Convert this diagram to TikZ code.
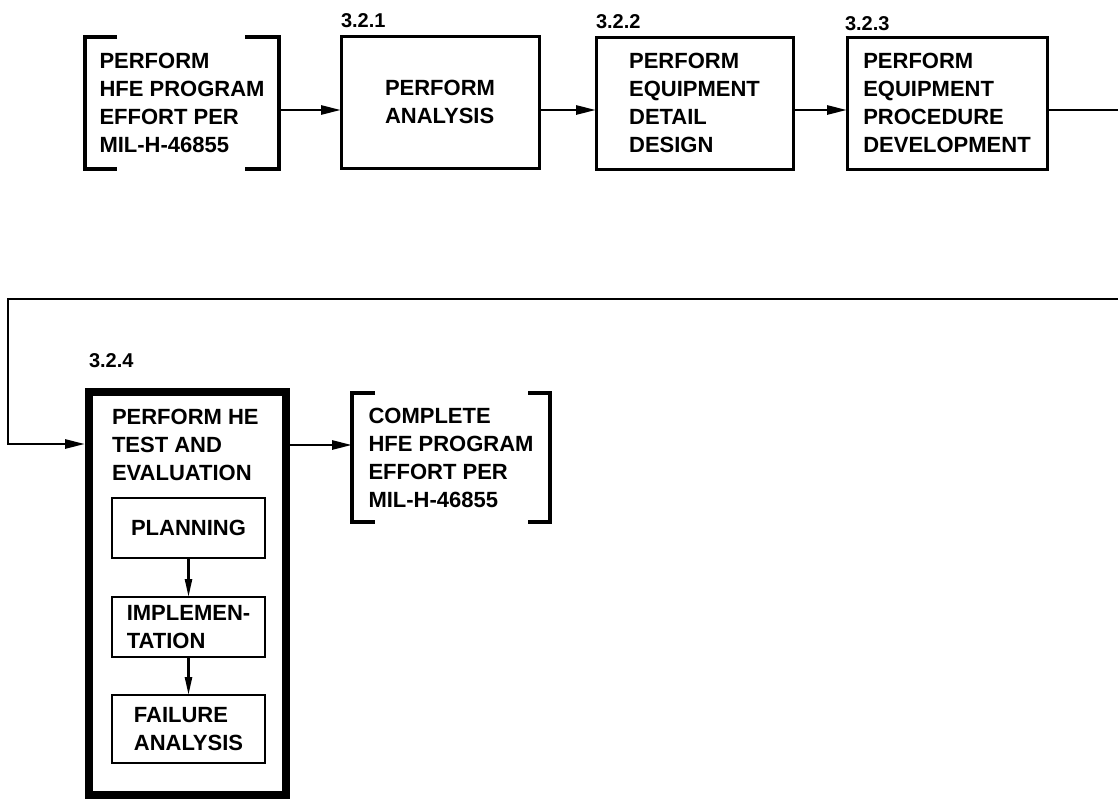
\documentclass[tikz,border=0pt]{standalone}
\usepackage{fontspec}
\setmainfont{Liberation Sans}
\usetikzlibrary{arrows.meta,calc}
\begin{document}
\begin{tikzpicture}[x=1pt,y=-1pt,
  every node/.style={outer sep=0pt},
  txt/.style={font=\bfseries\fontsize{22}{28}\selectfont, align=left, inner sep=0pt},
  box/.style={txt, draw, line width=3pt},
  brkbox/.style={txt, draw=none},
  brk/.style={line width=3.2pt},
  thickbox/.style={draw, line width=8pt, inner sep=0pt},
  subbox/.style={txt, draw, line width=2.6pt},
  lbl/.style={font=\bfseries\fontsize{20}{22}\selectfont, anchor=base west, inner sep=0pt},
  conn/.style={line width=2.8pt},
  arr/.style={conn, -{Triangle[length=20pt,width=9pt]}},
  sarr/.style={line width=2.4pt, -{Triangle[length=18pt,width=7pt]}}
]
\useasboundingbox (0,0) rectangle (1118,798);

% top row
\node[brkbox, minimum width=194pt, minimum height=132pt] (b0) at (182,103)
  {PERFORM\\HFE PROGRAM\\EFFORT PER\\MIL-H-46855};
\draw[brk] ([xshift=32pt]b0.north west) -- (b0.north west) -- (b0.south west) -- ([xshift=32pt]b0.south west);
\draw[brk] ([xshift=-34pt]b0.north east) -- (b0.north east) -- (b0.south east) -- ([xshift=-34pt]b0.south east);

\node[box, minimum width=198pt, minimum height=132pt] (b1) at (440,102) {PERFORM\\ANALYSIS};
\node[box, minimum width=197pt, minimum height=132pt] (b2) at (694.5,103) {PERFORM\\EQUIPMENT\\DETAIL\\DESIGN};
\node[box, minimum width=200pt, minimum height=132pt] (b3) at (947,103) {PERFORM\\EQUIPMENT\\PROCEDURE\\DEVELOPMENT};

\node[lbl] (l1) at (341,27) {3.2.1};
\node[lbl] (l2) at (596,28) {3.2.2};
\node[lbl] (l3) at (845,30) {3.2.3};

\coordinate (ya) at (0,110);
\draw[arr] (b0.east |- ya) -- (b1.west |- ya);
\draw[arr] (b1.east |- ya) -- (b2.west |- ya);
\draw[arr] (b2.east |- ya) -- (b3.west |- ya);
\coordinate (r1) at (1118,110);
\draw[conn] (b3.east |- ya) -- (r1);

% bottom row
\node[thickbox, minimum width=197pt, minimum height=403pt] (b4) at (187.5,593.5) {};
\node[lbl] (l4) at (89,367) {3.2.4};
\node[txt, anchor=north west] (t4) at (112,409) {PERFORM HE\\TEST AND\\EVALUATION};

\node[subbox, minimum width=153pt, minimum height=60pt] (s1) at (188.5,528) {PLANNING};
\node[subbox, minimum width=153pt, minimum height=60pt] (s2) at (188.5,627) {IMPLEMEN-\\TATION};
\node[subbox, minimum width=153pt, minimum height=68pt] (s3) at (188.5,729) {FAILURE\\ANALYSIS};
\draw[sarr] (s1) -- (s2);
\draw[sarr] (s2) -- (s3);

\node[brkbox, minimum width=198pt, minimum height=129pt] (b5) at (451,457.5)
  {COMPLETE\\HFE PROGRAM\\EFFORT PER\\MIL-H-46855};
\draw[brk] ([xshift=23pt]b5.north west) -- (b5.north west) -- (b5.south west) -- ([xshift=23pt]b5.south west);
\draw[brk] ([xshift=-22pt]b5.north east) -- (b5.north east) -- (b5.south east) -- ([xshift=-22pt]b5.south east);

% loop connector
\coordinate (r2) at (1118,299);
\coordinate (c1) at (8,299);
\coordinate (yb) at (0,444);
\draw[arr, shorten >=4pt] (r2) -- (c1) -- (c1 |- yb) -- (b4.west |- yb);
\coordinate (yc) at (0,445);
\draw[arr] ([xshift=4pt]b4.east |- yc) -- (b5.west |- yc);
\end{tikzpicture}
\end{document}
